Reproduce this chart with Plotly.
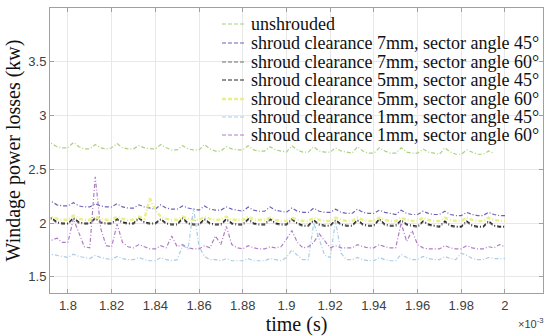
import plotly.graph_objects as go

time_ms = [1.79, 1.7925, 1.795, 1.7975, 1.8, 1.8025, 1.805, 1.8075, 1.81, 1.8125,
           1.815, 1.8175, 1.82, 1.8225, 1.825, 1.8275, 1.83, 1.8325, 1.835, 1.8375,
           1.84, 1.8425, 1.845, 1.8475, 1.85, 1.8525, 1.855, 1.8575, 1.86, 1.8625,
           1.865, 1.8675, 1.87, 1.8725, 1.875, 1.8775, 1.88, 1.8825, 1.885, 1.8875,
           1.89, 1.8925, 1.895, 1.8975, 1.9, 1.9025, 1.905, 1.9075, 1.91, 1.9125,
           1.915, 1.9175, 1.92, 1.9225, 1.925, 1.9275, 1.93, 1.9325, 1.935, 1.9375,
           1.94, 1.9425, 1.945, 1.9475, 1.95, 1.9525, 1.955, 1.9575, 1.96, 1.9625,
           1.965, 1.9675, 1.97, 1.9725, 1.975, 1.9775, 1.98, 1.9825, 1.985, 1.9875,
           1.99, 1.9925, 1.995, 1.9975, 2.0]

unshrouded = [2.71,
    2.74, 2.71, 2.70, 2.70, 2.75, 2.71, 2.69, 2.69, 2.73, 2.70, 2.69, 2.70,
    2.74, 2.70, 2.69, 2.69, 2.72, 2.70, 2.69, 2.69, 2.73, 2.70, 2.68, 2.68,
    2.72, 2.69, 2.68, 2.68, 2.73, 2.69, 2.67, 2.67, 2.71, 2.69, 2.68, 2.68,
    2.72, 2.68, 2.67, 2.67, 2.71, 2.68, 2.67, 2.66, 2.72, 2.68, 2.66, 2.66,
    2.71, 2.67, 2.66, 2.66, 2.70, 2.67, 2.66, 2.65, 2.71, 2.67, 2.65, 2.65,
    2.70, 2.67, 2.65, 2.65, 2.70, 2.66, 2.65, 2.65, 2.69, 2.66, 2.65, 2.64,
    2.70, 2.66, 2.64, 2.64, 2.68, 2.66, 2.64, 2.64, 2.67, 2.65]

c7_a45 = [2.20,
    2.20, 2.17, 2.16, 2.16, 2.19, 2.16, 2.15, 2.15, 2.18, 2.16, 2.15, 2.15,
    2.18, 2.15, 2.14, 2.14, 2.17, 2.15, 2.14, 2.13, 2.17, 2.14, 2.13, 2.13,
    2.16, 2.14, 2.13, 2.12, 2.16, 2.13, 2.12, 2.12, 2.15, 2.13, 2.12, 2.11,
    2.15, 2.12, 2.11, 2.11, 2.15, 2.12, 2.11, 2.10, 2.14, 2.11, 2.10, 2.10,
    2.14, 2.11, 2.10, 2.10, 2.13, 2.10, 2.09, 2.09, 2.13, 2.10, 2.09, 2.09,
    2.12, 2.10, 2.09, 2.08, 2.12, 2.09, 2.08, 2.08, 2.11, 2.09, 2.08, 2.08,
    2.11, 2.08, 2.07, 2.07, 2.10, 2.08, 2.07, 2.07, 2.10, 2.08, 2.07, 2.07]

c7_a60 = [2.00,
    2.04, 2.00, 1.99, 1.99, 2.04, 2.00, 1.99, 1.99, 2.04, 2.00, 1.99, 1.99,
    2.03, 2.00, 1.99, 1.99, 2.04, 2.00, 1.99, 1.99, 2.03, 1.99, 1.98, 1.98,
    2.04, 1.99, 1.98, 1.98, 2.03, 1.99, 1.98, 1.98, 2.03, 1.99, 1.98, 1.98,
    2.03, 1.99, 1.98, 1.98, 2.03, 1.99, 1.98, 1.98, 2.03, 1.99, 1.97, 1.97,
    2.02, 1.98, 1.97, 1.97, 2.02, 1.98, 1.97, 1.97, 2.02, 1.98, 1.97, 1.97,
    2.03, 1.98, 1.97, 1.97, 2.02, 1.98, 1.97, 1.96, 2.01, 1.98, 1.97, 1.96,
    2.01, 1.97, 1.96, 1.96, 2.01, 1.97, 1.96, 1.96, 2.01, 1.97, 1.96, 1.96]

c5_a45 = [2.01,
    2.05, 2.01, 2.00, 2.00, 2.05, 2.01, 2.00, 2.00, 2.05, 2.01, 2.00, 2.00,
    2.04, 2.01, 2.00, 2.00, 2.05, 2.01, 2.00, 2.00, 2.04, 2.00, 1.99, 1.99,
    2.05, 2.00, 1.99, 1.99, 2.04, 2.00, 1.99, 1.99, 2.04, 2.00, 1.99, 1.99,
    2.04, 2.00, 1.99, 1.99, 2.04, 2.00, 1.99, 1.99, 2.04, 2.00, 1.98, 1.98,
    2.03, 1.99, 1.98, 1.98, 2.03, 1.99, 1.98, 1.98, 2.03, 1.99, 1.98, 1.98,
    2.04, 1.99, 1.98, 1.98, 2.03, 1.99, 1.98, 1.97, 2.02, 1.99, 1.98, 1.97,
    2.02, 1.98, 1.97, 1.97, 2.02, 1.98, 1.97, 1.97, 2.02, 1.98, 1.97, 1.97]

c5_a60 = [2.05,
    2.06, 2.04, 2.03, 2.03, 2.07, 2.04, 2.03, 2.03, 2.06, 2.04, 2.03, 2.03,
    2.06, 2.04, 2.03, 2.03, 2.06, 2.04, 2.23, 2.12, 2.06, 2.04, 2.03, 2.03,
    2.06, 2.04, 2.03, 2.03, 2.06, 2.04, 2.03, 2.03, 2.06, 2.03, 2.03, 2.03,
    2.06, 2.03, 2.03, 2.03, 2.05, 2.03, 2.02, 2.02, 2.05, 2.03, 2.02, 2.02,
    2.05, 2.03, 2.02, 2.02, 2.05, 2.03, 2.02, 2.02, 2.05, 2.03, 2.02, 2.02,
    2.05, 2.03, 2.02, 2.02, 2.05, 2.03, 2.02, 2.02, 2.05, 2.03, 2.02, 2.02,
    2.05, 2.03, 2.02, 2.02, 2.05, 2.03, 2.02, 2.02, 2.05, 2.03, 2.02, 2.02]

c1_a45 = [1.72,
    1.71, 1.70, 1.69, 1.68, 1.71, 1.69, 1.68, 1.67, 1.70, 1.68, 1.67, 1.66,
    1.69, 1.67, 1.66, 1.66, 1.68, 1.66, 1.65, 1.65, 1.68, 1.66, 1.65, 1.66,
    1.79, 1.76, 2.14, 1.78, 1.69, 1.66, 1.66, 1.65, 1.67, 1.65, 1.65, 1.65,
    1.67, 1.65, 1.65, 1.65, 1.67, 1.66, 1.65, 1.68, 1.75, 1.70, 1.66, 1.66,
    2.00, 1.85, 1.70, 1.68, 2.02, 1.72, 1.66, 1.66, 1.68, 1.66, 1.65, 1.65,
    1.68, 1.66, 1.65, 1.65, 1.71, 1.68, 1.66, 1.66, 1.69, 1.67, 1.66, 1.66,
    1.69, 1.67, 1.66, 1.72, 1.70, 1.67, 1.66, 1.66, 1.68, 1.67, 1.67, 1.67]

c1_a60 = [1.82,
    1.84, 1.86, 1.82, 1.82, 2.04, 1.90, 1.78, 1.77, 2.43, 1.95, 1.79, 1.78,
    1.99, 1.82, 1.78, 1.77, 1.80, 1.78, 1.76, 1.76, 1.79, 1.77, 1.88, 1.78,
    1.80, 1.77, 1.76, 1.76, 1.79, 1.77, 1.88, 1.80, 1.97, 1.80, 1.77, 1.76,
    1.79, 1.77, 1.76, 1.76, 1.78, 1.77, 1.78, 1.85, 1.93, 1.82, 1.77, 1.78,
    1.82, 1.90, 1.83, 1.77, 1.79, 1.77, 1.77, 1.77, 1.80, 1.78, 1.77, 1.77,
    1.80, 1.78, 1.77, 1.77, 2.00, 1.83, 1.93, 1.80, 1.77, 1.76, 1.76, 1.76,
    1.79, 1.77, 1.76, 1.76, 1.79, 1.77, 1.76, 1.76, 1.78, 1.77, 1.80, 1.78]

series_names = [
    "unshrouded",
    "shroud clearance 7mm, sector angle 45°",
    "shroud clearance 7mm, sector angle 60°",
    "shroud clearance 5mm, sector angle 45°",
    "shroud clearance 5mm, sector angle 60°",
    "shroud clearance 1mm, sector angle 45°",
    "shroud clearance 1mm, sector angle 60°",
]
series_values = [unshrouded, c7_a45, c7_a60, c5_a45, c5_a60, c1_a45, c1_a60]
series_colors = ["#a9d27f", "#6c63b8", "#6e6e6e", "#262626", "#eeee88", "#a8cde8", "#b07cc8"]
series_widths = [1.2, 1.2, 1.2, 1.2, 2.5, 1.2, 1.2]

x_tickvals = [1.8, 1.82, 1.84, 1.86, 1.88, 1.9, 1.92, 1.94, 1.96, 1.98, 2.0]
x_ticktext = ["1.8", "1.82", "1.84", "1.86", "1.88", "1.9", "1.92", "1.94", "1.96", "1.98", "2"]
y_tickvals = [1.5, 2, 2.5, 3, 3.5]
y_ticktext = ["1.5", "2", "2.5", "3", "3.5"]

W, H = 550, 336
ML, MR, MT, MB = 50, 7, 8, 43
PW, PH = W - ML - MR, H - MT - MB


def px_x(px):
    return (px - ML) / PW


def px_y(py):
    return (H - MB - py) / PH


fig = go.Figure()
for name, vals, col, w in zip(series_names, series_values, series_colors, series_widths):
    fig.add_trace(go.Scatter(
        x=time_ms[:len(vals)], y=vals, name=name, mode="lines",
        line=dict(color=col, width=w, dash="4px,2px,1px,2px"), showlegend=False,
    ))

# Manual legend (to match the compact row spacing of the reference)
legend_rows_py = [24, 43, 62, 80, 99, 117, 135]
shapes = [dict(type="rect", xref="paper", yref="paper", layer="between",
               x0=px_x(216), x1=px_x(542), y0=px_y(144), y1=px_y(12),
               fillcolor="white", line=dict(width=0))]
annotations = []
for name, col, w, py in zip(series_names, series_colors, series_widths, legend_rows_py):
    shapes.append(dict(type="line", xref="paper", yref="paper", layer="above",
                       x0=px_x(222), x1=px_x(246), y0=px_y(py), y1=px_y(py),
                       line=dict(color=col, width=w, dash="4px,2px")))
    annotations.append(dict(text=name, xref="paper", yref="paper",
                            x=px_x(249), y=px_y(py), xanchor="left", yanchor="middle",
                            showarrow=False,
                            font=dict(family="Liberation Serif, Times New Roman", size=18, color="#111111")))

annotations.append(dict(text="×10<sup>-3</sup>", xref="paper", yref="paper",
                        x=px_x(546), y=px_y(323), xanchor="right", yanchor="middle",
                        showarrow=False,
                        font=dict(family="Liberation Sans, Arial", size=11, color="#404040")))

axis_common = dict(
    showline=True, linecolor="#a0a0a0", linewidth=1, mirror="ticks",
    ticks="inside", ticklen=4, tickcolor="#a0a0a0",
    showgrid=True, gridcolor="#e8e8e8", gridwidth=1, zeroline=False,
    tickfont=dict(family="Liberation Sans, Arial", size=13, color="#404040"),
)

fig.update_layout(
    width=W, height=H,
    margin=dict(l=ML, r=MR, t=MT, b=MB, autoexpand=False),
    paper_bgcolor="white", plot_bgcolor="white",
    showlegend=False,
    xaxis=dict(range=[1.7918, 2.0174], tickvals=x_tickvals, ticktext=x_ticktext,
               automargin=False,
               title=dict(text="time (s)", standoff=0,
                          font=dict(family="Liberation Serif, Times New Roman", size=20, color="#111111")),
               **axis_common),
    yaxis=dict(range=[1.35, 4.0], tickvals=y_tickvals, ticktext=y_ticktext,
               automargin=False,
               title=dict(text="Windage power losses (kw)", standoff=2,
                          font=dict(family="Liberation Serif, Times New Roman", size=20, color="#111111")),
               **axis_common),
    shapes=shapes,
    annotations=annotations,
)

fig.write_html("out.html", config={"displayModeBar": False},
               post_script="document.body.style.margin='0';")
